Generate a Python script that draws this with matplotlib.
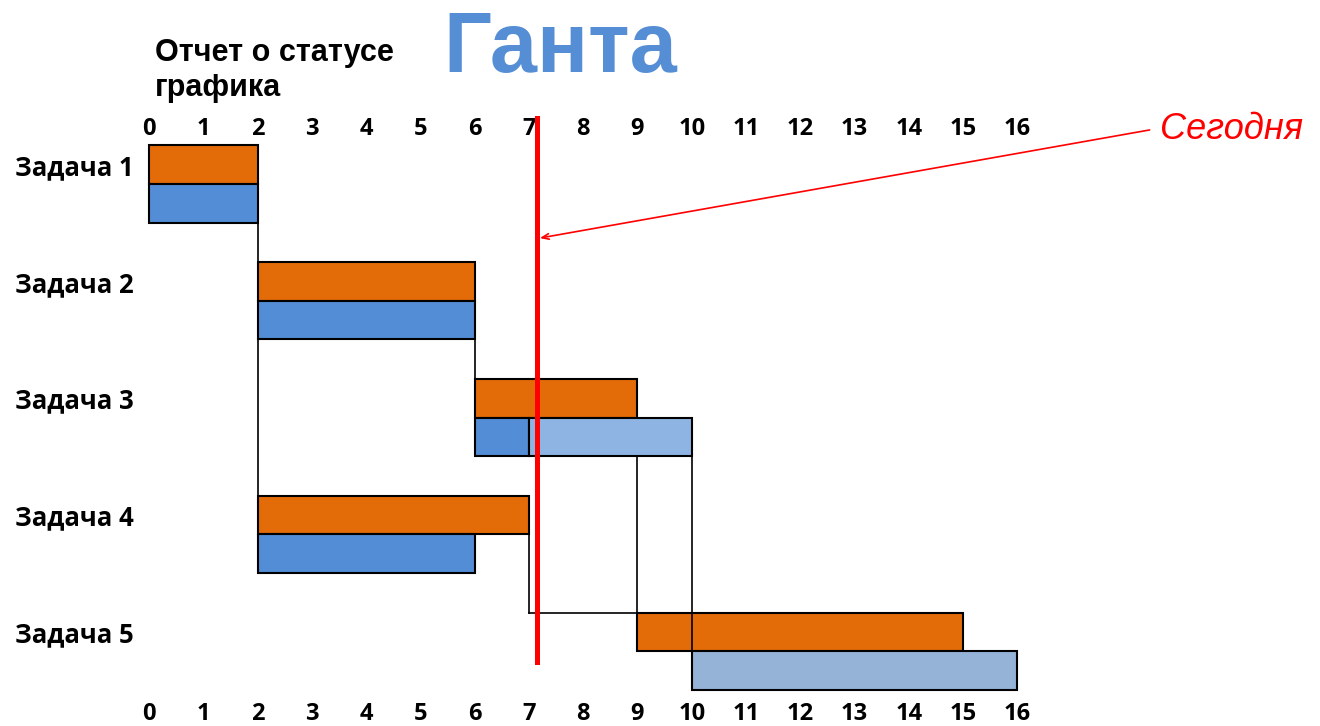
import matplotlib
matplotlib.use("Agg")
from matplotlib import pyplot as plt

# tasks and their planned / actual periods (weeks)
tasks = ["Задача 1", "Задача 2", "Задача 3", "Задача 4", "Задача 5"]
plan_start = [0, 2, 6, 2, 9]
plan_end = [2, 6, 9, 7, 15]
actual_start = [0, 2, 6, 2, 10]
actual_end = [2, 6, 10, 6, 16]
done_until = [2, 6, 7, 6, 10]
# predecessor -> successor
deps = [(0, 3), (1, 2), (2, 4), (3, 4)]
today = 7.15
ticks = list(range(0, 17))

orange = "#E36C09"
blue = "#538DD5"
light = ["#8DB4E2", "#8DB4E2", "#8DB4E2", "#8DB4E2", "#95B3D7"]
label_font = "Open Sans"
h = 0.33

fig = plt.figure(figsize=(13.2, 7.26), dpi=100)
ax = fig.add_axes([0, 0, 1, 1])
ax.set_xlim(-2.75, 21.58)
ax.set_ylim(4.642, -1.576)
ax.axis("off")

for i in range(len(tasks)):
    # plan bar (orange) above, actual bar (blue) below
    ax.barh(i - h / 2, plan_end[i] - plan_start[i], left=plan_start[i], height=h,
            color=orange, edgecolor="black", linewidth=1.5, zorder=2)
    done = max(0, min(done_until[i], actual_end[i]) - actual_start[i])
    if done > 0:
        ax.barh(i + h / 2, done, left=actual_start[i], height=h,
                color=blue, edgecolor="black", linewidth=1.5, zorder=2)
    rest = actual_end[i] - max(done_until[i], actual_start[i])
    if rest > 0:
        ax.barh(i + h / 2, rest, left=max(done_until[i], actual_start[i]), height=h,
                color=light[i], edgecolor="black", linewidth=1.5, zorder=2)
    ax.text(-2.475, i - 0.14, tasks[i], ha="left", va="center",
            fontsize=18.5, fontweight="bold", family=label_font)

# dependency connectors
for p, s in deps:
    x = plan_end[p]
    bottom = p + h if actual_end[p] >= x else p
    ax.plot([x, x], [bottom, s - h], color="black", lw=1.2, zorder=3)
    if plan_start[s] != x:
        ax.plot([x, plan_start[s]], [s - h, s - h], color="black", lw=1.2, zorder=3)
    if actual_end[p] != x and actual_end[p] == actual_start[s]:
        ax.plot([actual_end[p]] * 2, [p + h, s], color="black", lw=1.2, zorder=3)

for t in ticks:
    ax.text(t, -0.47, str(t), ha="center", va="center", fontsize=17,
            fontweight="bold", family=label_font)
    ax.text(t, 4.535, str(t), ha="center", va="center", fontsize=17,
            fontweight="bold", family=label_font)

# today marker
ax.plot([today, today], [-0.565, 4.094], color="#FF0000", lw=3.6, zorder=5)
ax.annotate("", xy=(today + 0.05, 0.463), xytext=(18.44, -0.463),
            arrowprops=dict(arrowstyle="->,head_length=0.5,head_width=0.2",
                            color="#FF0000", lw=1.2, shrinkA=0, shrinkB=0), zorder=5)
ax.text(18.63, -0.463, "Сегодня", color="#FF0000", fontsize=26, style="italic",
        ha="left", va="center", family="Liberation Sans")

fig.text(155 / 1320, 1 - 61 / 726, "Отчет о статусе", fontsize=22, fontweight="bold",
         family="Liberation Sans", va="baseline")
fig.text(155 / 1320, 1 - 96 / 726, "графика", fontsize=22, fontweight="bold",
         family="Liberation Sans", va="baseline")
fig.text(443 / 1320, 1 - 72 / 726, "Ганта", fontsize=61, fontweight="bold",
         family="Liberation Sans", color="#558ED5", va="baseline")

fig.savefig("out.png", dpi=100)
